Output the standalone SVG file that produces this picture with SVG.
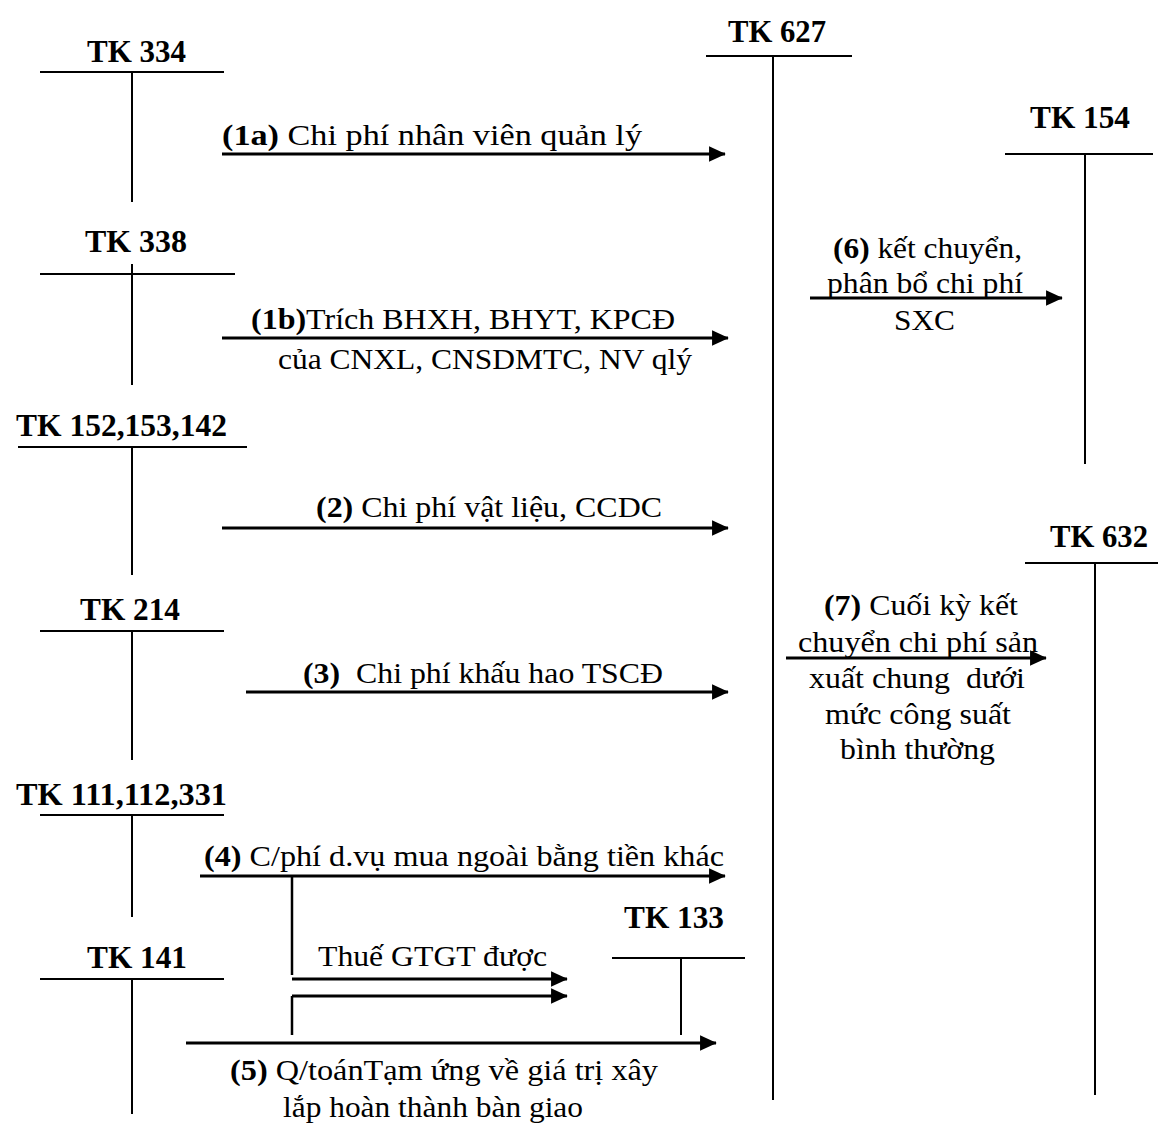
<svg xmlns="http://www.w3.org/2000/svg" width="1158" height="1127" viewBox="0 0 1158 1127">
<defs>
<marker id="ah" markerWidth="6" markerHeight="5.5" refX="5.7" refY="2.75" orient="auto" markerUnits="strokeWidth"><path d="M0,0 L6,2.75 L0,5.5 Z" fill="#000"/></marker>
<style>
.t{font-family:"Liberation Serif","Times New Roman",serif;font-size:29px;fill:#000}
.h{font-family:"Liberation Serif","Times New Roman",serif;font-size:31px;font-weight:bold;fill:#000}
.b{font-weight:bold}
.tl{stroke:#000;stroke-width:2;fill:none}
.ar{stroke:#000;stroke-width:2.8;fill:none;marker-end:url(#ah)}
.ln{stroke:#000;stroke-width:2.5;fill:none}
</style>
</defs>
<rect width="1158" height="1127" fill="#fff"/>
<g id="tk334"><text class="h" x="87" y="62" textLength="99" lengthAdjust="spacingAndGlyphs">TK 334</text><path class="tl" d="M40,72 H224 M132,72 V202"/></g>
<g id="tk338"><text class="h" x="85" y="252" textLength="102" lengthAdjust="spacingAndGlyphs">TK 338</text><path class="tl" d="M40,274 H235 M132,264 V385"/></g>
<g id="tk152"><text class="h" x="16" y="436" textLength="211" lengthAdjust="spacingAndGlyphs">TK 152,153,142</text><path class="tl" d="M18,447 H247 M132,447 V575"/></g>
<g id="tk214"><text class="h" x="80" y="620" textLength="100" lengthAdjust="spacingAndGlyphs">TK 214</text><path class="tl" d="M40,631 H224 M132,631 V760"/></g>
<g id="tk111"><text class="h" x="16" y="805" textLength="211" lengthAdjust="spacingAndGlyphs">TK 111,112,331</text><path class="tl" d="M40,815 H224 M132,815 V917"/></g>
<g id="tk141"><text class="h" x="87" y="968" textLength="100" lengthAdjust="spacingAndGlyphs">TK 141</text><path class="tl" d="M40,979 H224 M132,979 V1114"/></g>
<g id="tk627"><text class="h" x="728" y="42" textLength="98" lengthAdjust="spacingAndGlyphs">TK 627</text><path class="tl" d="M706,56 H852 M773,56 V1100"/></g>
<g id="tk154"><text class="h" x="1030" y="128" textLength="100" lengthAdjust="spacingAndGlyphs">TK 154</text><path class="tl" d="M1005,154 H1153 M1085,154 V464"/></g>
<g id="tk632"><text class="h" x="1050" y="547" textLength="98" lengthAdjust="spacingAndGlyphs">TK 632</text><path class="tl" d="M1025,563 H1158 M1095,563 V1095"/></g>
<g id="tk133"><text class="h" x="624" y="928" textLength="100" lengthAdjust="spacingAndGlyphs">TK 133</text><path class="tl" d="M612,958 H745 M681,958 V1035"/></g>
<g id="connectors">
<line class="ar" x1="222" y1="154" x2="725" y2="154"/>
<line class="ar" x1="222" y1="338" x2="728" y2="338"/>
<line class="ar" x1="222" y1="528" x2="728" y2="528"/>
<line class="ar" x1="246" y1="692" x2="728" y2="692"/>
<line class="ar" x1="200" y1="876" x2="725" y2="876"/>
<path class="ln" d="M292,876 V975"/>
<line class="ar" x1="292" y1="979" x2="567" y2="979"/>
<line class="ar" x1="292" y1="996" x2="567" y2="996"/>
<path class="ln" d="M292,996 V1035"/>
<line class="ar" x1="186" y1="1043" x2="716" y2="1043"/>
<line class="ar" x1="810" y1="298" x2="1062" y2="298"/>
<line class="ar" x1="786" y1="658" x2="1046" y2="658"/>
</g>
<g id="labels">
<text class="t" x="222" y="145" textLength="420" lengthAdjust="spacingAndGlyphs"><tspan class="b">(1a)</tspan> Chi phí nhân viên quản lý</text>
<text class="t" x="251" y="329" textLength="424" lengthAdjust="spacingAndGlyphs"><tspan class="b">(1b)</tspan>Trích BHXH, BHYT, KPCĐ</text>
<text class="t" x="278" y="369" textLength="414" lengthAdjust="spacingAndGlyphs">của CNXL, CNSDMTC, NV qlý</text>
<text class="t" x="316" y="517" textLength="346" lengthAdjust="spacingAndGlyphs"><tspan class="b">(2)</tspan> Chi phí vật liệu, CCDC</text>
<text class="t" x="303" y="683" textLength="360" lengthAdjust="spacingAndGlyphs" xml:space="preserve"><tspan class="b">(3)</tspan>  Chi phí khấu hao TSCĐ</text>
<text class="t" x="204" y="866" textLength="520" lengthAdjust="spacingAndGlyphs"><tspan class="b">(4)</tspan> C/phí d.vụ mua ngoài bằng tiền khác</text>
<text class="t" x="318" y="966" textLength="229" lengthAdjust="spacingAndGlyphs">Thuế GTGT được</text>
<text class="t" x="230" y="1080" textLength="428" lengthAdjust="spacingAndGlyphs"><tspan class="b">(5)</tspan> Q/toánTạm ứng về giá trị xây</text>
<text class="t" x="283" y="1117" textLength="300" lengthAdjust="spacingAndGlyphs">lắp hoàn thành bàn giao</text>
<text class="t" x="833" y="258" textLength="189" lengthAdjust="spacingAndGlyphs"><tspan class="b">(6)</tspan> kết chuyển,</text>
<text class="t" x="827" y="293" textLength="196" lengthAdjust="spacingAndGlyphs">phân bổ chi phí</text>
<text class="t" x="894" y="330" textLength="61" lengthAdjust="spacingAndGlyphs">SXC</text>
<text class="t" x="824" y="615" textLength="194" lengthAdjust="spacingAndGlyphs"><tspan class="b">(7)</tspan> Cuối kỳ kết</text>
<text class="t" x="798" y="652" textLength="240" lengthAdjust="spacingAndGlyphs">chuyển chi phí sản</text>
<text class="t" x="809" y="688" textLength="216" lengthAdjust="spacingAndGlyphs" xml:space="preserve">xuất chung  dưới</text>
<text class="t" x="825" y="724" textLength="186" lengthAdjust="spacingAndGlyphs">mức công suất</text>
<text class="t" x="840" y="759" textLength="155" lengthAdjust="spacingAndGlyphs">bình thường</text>
</g>
</svg>
